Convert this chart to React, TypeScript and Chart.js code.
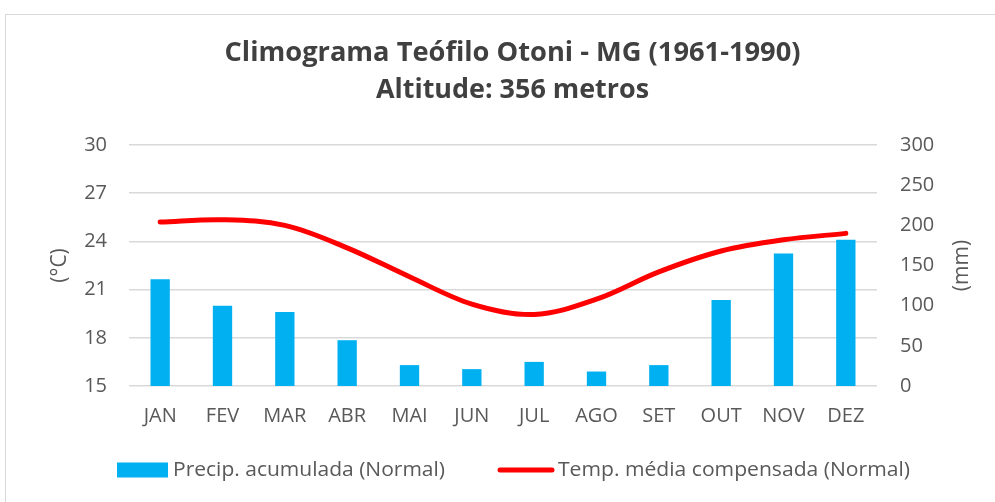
import React, { useEffect, useRef } from 'react';
import { Chart, registerables } from 'chart.js';

Chart.register(...registerables);

const months = ['JAN', 'FEV', 'MAR', 'ABR', 'MAI', 'JUN', 'JUL', 'AGO', 'SET', 'OUT', 'NOV', 'DEZ'];
const precipitation = [133, 100, 92, 57, 26, 21, 30, 18, 26, 107, 165, 182];
const temperature = [25.2, 25.35, 25.0, 23.6, 21.8, 20.1, 19.45, 20.4, 22.1, 23.4, 24.1, 24.5];
const tempRange = [15, 30];
const tempStep = 3;
const precipRange = [0, 300];
const precipStep = 50;
const titleLines = ['Climograma Teófilo Otoni - MG (1961-1990)', 'Altitude: 356 metros'];
const precipLabel = 'Precip. acumulada (Normal)';
const tempLabel = 'Temp. média compensada (Normal)';
const tempAxisTitle = '(°C)';
const precipAxisTitle = '(mm)';

const FONT = '"Open Sans", Lato, sans-serif';
const TEXT = '#595959';
const TITLE = '#404040';
const GRID = '#D9D9D9';
const BLUE = '#00B0F0';
const RED = '#FF0000';

// draw text horizontally scaled so that it spans `width`
function drawFitted(ctx: CanvasRenderingContext2D, text: string, x: number, y: number, width: number, align: 'left' | 'center') {
  const w = ctx.measureText(text).width;
  const sx = width / w;
  ctx.save();
  ctx.translate(x, y);
  ctx.scale(sx, 1);
  ctx.textAlign = align;
  ctx.fillText(text, 0, 0);
  ctx.restore();
}

const extrasPlugin = {
  id: 'extras',
  afterDraw(chart: any) {
    const ctx = chart.ctx as CanvasRenderingContext2D;
    const area = chart.chartArea;
    const y1 = chart.scales.y1;

    // title
    ctx.save();
    ctx.font = `bold 26px ${FONT}`;
    ctx.fillStyle = TITLE;
    ctx.textBaseline = 'middle';
    const tcx = chart.width / 2 + 15;
    drawFitted(ctx, titleLines[0], tcx, 54, 576, 'center');
    drawFitted(ctx, titleLines[1], tcx, 91, 273, 'center');
    ctx.restore();

    // right axis title, rotated like the left one
    ctx.save();
    ctx.font = `21px ${FONT}`;
    ctx.fillStyle = TEXT;
    ctx.textAlign = 'center';
    ctx.textBaseline = 'middle';
    ctx.translate(y1.right - 33, (area.top + area.bottom) / 2);
    ctx.rotate(-Math.PI / 2);
    ctx.fillText(precipAxisTitle, 0, 0);
    ctx.restore();

    // legend
    const ly = 470;
    let lx = 117;
    const widths = [272, 352];
    chart.data.datasets.forEach((ds: any, i: number) => {
      ctx.save();
      if (ds.type === 'bar') {
        ctx.fillStyle = ds.backgroundColor;
        ctx.fillRect(lx, ly - 7.5, 51, 15);
      } else {
        ctx.strokeStyle = ds.borderColor;
        ctx.lineWidth = 5;
        ctx.lineCap = 'round';
        ctx.beginPath();
        ctx.moveTo(lx + 3, ly);
        ctx.lineTo(lx + 55, ly);
        ctx.stroke();
      }
      ctx.restore();
      lx += i === 0 ? 56 : 61;
      ctx.save();
      ctx.font = `20px ${FONT}`;
      ctx.fillStyle = TEXT;
      ctx.textBaseline = 'middle';
      drawFitted(ctx, ds.label, lx, ly, widths[i], 'left');
      ctx.restore();
      lx += widths[i] + 52;
    });
  },
};

export default function App() {
  const ref = useRef<HTMLCanvasElement>(null);

  useEffect(() => {
    if (!ref.current) return;
    const tickFont = { family: FONT, size: 20 };
    const chart = new Chart(ref.current, {
      type: 'bar',
      data: {
        labels: months,
        datasets: [
          {
            type: 'bar',
            label: precipLabel,
            data: precipitation,
            backgroundColor: BLUE,
            borderWidth: 0,
            yAxisID: 'y1',
            order: 1,
            categoryPercentage: 1,
            barPercentage: 0.31,
          } as any,
          {
            type: 'line',
            label: tempLabel,
            data: temperature,
            borderColor: RED,
            backgroundColor: RED,
            borderWidth: 5,
            borderCapStyle: 'round',
            pointRadius: 0,
            tension: 0.35,
            yAxisID: 'y',
            order: 0,
          } as any,
        ],
      },
      options: {
        responsive: false,
        animation: false,
        layout: { padding: { left: 0, right: 0, top: 145, bottom: 52 } },
        plugins: {
          legend: { display: false },
          tooltip: { enabled: false },
          title: { display: false },
        },
        scales: {
          x: {
            grid: { display: false, drawTicks: false },
            border: { display: false },
            ticks: { font: tickFont, color: TEXT, padding: 18 },
            afterFit: (s: any) => { s.height = 64; },
          },
          y: {
            position: 'left',
            min: tempRange[0],
            max: tempRange[1],
            ticks: { stepSize: tempStep, font: tickFont, color: TEXT, padding: 22 },
            grid: { color: GRID, lineWidth: 1.5, drawTicks: false },
            border: { display: false },
            title: {
              display: true,
              text: tempAxisTitle,
              color: TEXT,
              font: { family: FONT, size: 21 },
              padding: { top: 47, bottom: 0 },
            },
            afterFit: (s: any) => { s.width = 129; },
          },
          y1: {
            position: 'right',
            min: precipRange[0],
            max: precipRange[1],
            ticks: { stepSize: precipStep, font: tickFont, color: TEXT, padding: 23 },
            grid: { display: false, drawTicks: false },
            border: { display: false },
            afterFit: (s: any) => { s.width = 118; },
          },
        },
      } as any,
      plugins: [extrasPlugin],
    });
    return () => chart.destroy();
  }, []);

  return (
    <div style={{ position: 'fixed', left: 0, top: 0, width: 995, height: 502, background: '#fff', overflow: 'hidden' }}>
      <div style={{ position: 'absolute', left: 5, top: 14, width: 1100, height: 600, border: '1px solid #D9D9D9' }} />
      <canvas ref={ref} width={995} height={502} style={{ position: 'absolute', left: 0, top: 0 }} />
    </div>
  );
}
